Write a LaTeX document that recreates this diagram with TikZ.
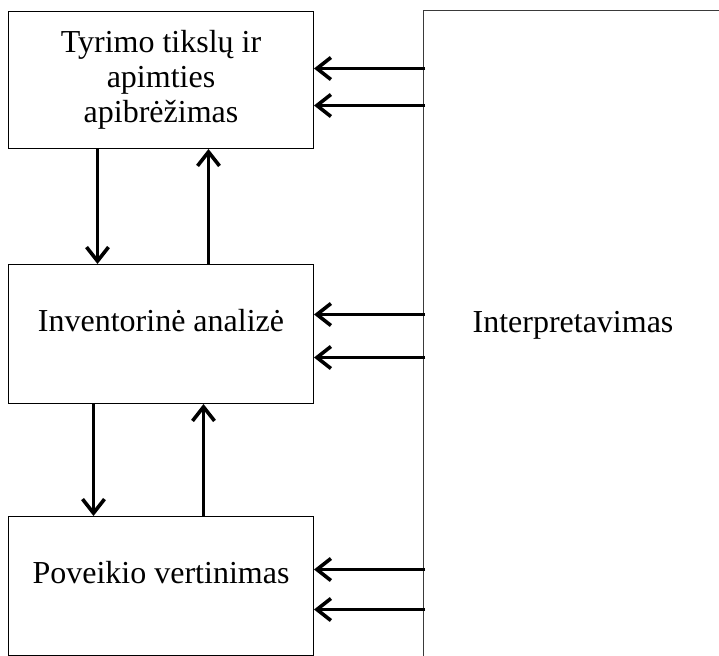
\documentclass[tikz,border=0pt]{standalone}
\usepackage{fontspec}
\setmainfont{Liberation Serif}
\definecolor{edgeBlack}{HTML}{000000}
\definecolor{frameGray}{HTML}{3A3A3A}
\usepackage{tikz}
\usetikzlibrary{arrows.meta, positioning}
\newcommand{\stagefont}{\fontsize{32}{35}\selectfont}

\begin{document}
\begin{tikzpicture}[x=1pt, y=-1pt,
    stagebox/.style={draw=edgeBlack, line width=1pt, minimum width=305pt,
                     inner sep=0pt, align=center, font=\stagefont},
    stagetext/.style={font=\stagefont, inner sep=0pt},
    flow/.style={line width=3.6pt, -{Straight Barb[length=14pt, width=22pt]}}]
  \path[use as bounding box] (0,0) rectangle (719,655);
  \clip (0,0) rectangle (719,655);

  % stages on the left
  \node[stagebox, minimum height=137pt, anchor=north west] (tyr) at (8,11)
    {Tyrimo tikslų ir\\apimties\\apibrėžimas};
  \node[stagebox, minimum height=139pt, below=115pt of tyr] (inv) {};
  \node[stagebox, minimum height=139pt, below=112pt of inv] (pov) {};
  \node[stagetext, yshift=13.5pt] (invtxt) at (inv.center) {Inventorinė analizė};
  \node[stagetext, yshift=13.5pt] (povtxt) at (pov.center) {Poveikio vertinimas};

  % interpretation frame, open to the right and bottom
  \node[draw=frameGray, line width=1pt, minimum width=299pt, minimum height=700pt,
        anchor=north west] (interp) at (423,10) {};
  \node[stagetext, yshift=9pt] (interptxt) at (inv.center -| interp.center) {Interpretavimas};

  \draw[flow] ([xshift=-63.5pt]tyr.south) -- ([xshift=-63.5pt]inv.north);
  \draw[flow] ([xshift=47.5pt]inv.north) -- ([xshift=47.5pt]tyr.south);
  \draw[flow] ([xshift=-67.5pt]inv.south) -- ([xshift=-67.5pt]pov.north);
  \draw[flow] ([xshift=42.5pt]pov.north) -- ([xshift=42.5pt]inv.south);

  \foreach \stage/\ya/\yb in {tyr/11.5/-25.5, inv/19.5/-23.5, pov/16.5/-23.5}{
    \coordinate (in1) at ([yshift=\ya pt]\stage.east);
    \coordinate (in2) at ([yshift=\yb pt]\stage.east);
    \draw[flow] ([xshift=2pt]interp.west |- in1) -- (in1);
    \draw[flow] ([xshift=2pt]interp.west |- in2) -- (in2);
  }
\end{tikzpicture}
\end{document}
